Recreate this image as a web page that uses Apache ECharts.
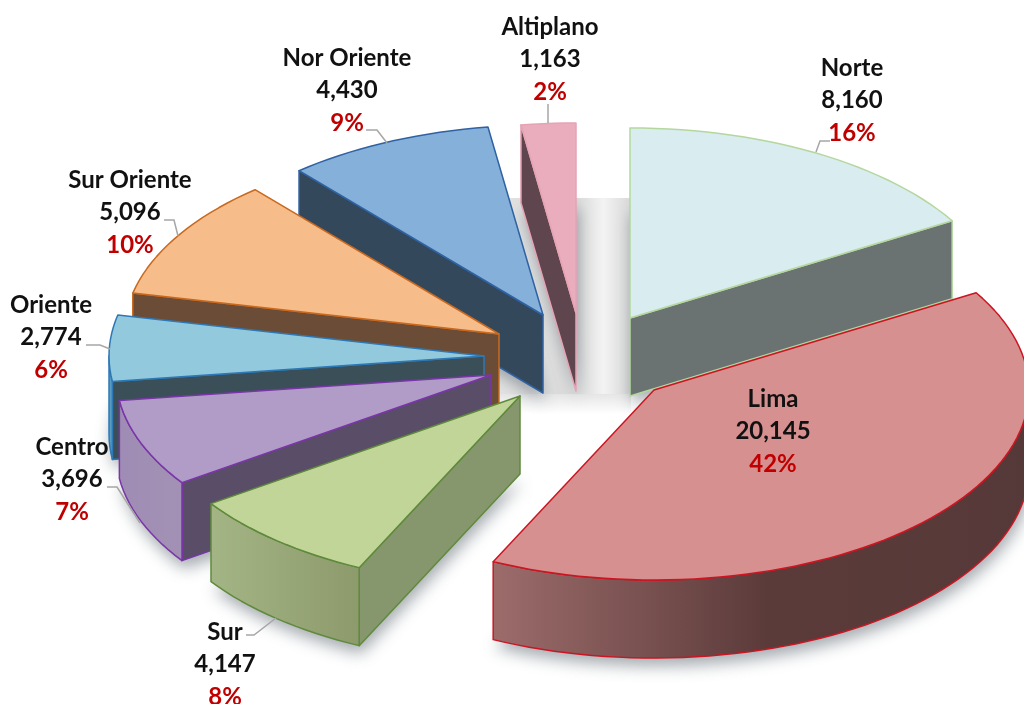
<!DOCTYPE html>
<html>
<head>
<meta charset="utf-8">
<style>html,body{margin:0;padding:0;background:#fff}#c{width:1024px;height:704px}</style>
<script src="https://cdn.jsdelivr.net/npm/echarts@6/dist/echarts.min.js"></script>
</head>
<body>
<div id="c"></div>
<script>
// ---- data, clockwise from 12 o'clock ----
const categories = ['Norte','Lima','Sur','Centro','Oriente','Sur Oriente','Nor Oriente','Altiplano'];
const values = [8160,20145,4147,3696,2774,5096,4430,1163];
const percentLabels = ['16%','42%','8%','7%','6%','10%','9%','2%'];

// ---- appearance ----
const explodeX = [55,79,-55,-84,-91,-76,-32,1];
const explodeY = [-32,40,46,25,6,-16,-35,-37];
const topColors = ['#d9ecef','#d79090','#c2d598','#b09cc6','#92c9dc','#f6bd8b','#84b0da','#e9adbd'];
const lineColors = ['#b4d79e','#cc1522','#5f8a3c','#7a35a8','#2e78b6','#c9691f','#2f62a2','#e6a3b4'];
const cutColors = ['#6a7272','#5a3a3a','#87976d','#5a4d68','#3a4f58','#6b4c37','#34485c','#5f464e'];
const wallLeft = ['#6a7272','#9c6c6b','#a4b585','#9f8cb4','#5a9cbf','#6b4c37','#34485c','#5f464e'];
const wallRight = ['#6a7272','#553938','#8d9a6c','#a391b5','#5a9cbf','#6b4c37','#34485c','#5f464e'];
const drawOrder = [7,6,5,4,3,2,0,1];
const labelX = [852,773,225,72,51,130,347,550];
const labelY = [68,399,632,447,305,180,58,27];
const leaders = [
  [[816,152],[820,141],[830,141]],
  [],
  [[246,635],[254,635],[276,618]],
  [[107,487],[117,487],[140,523]],
  [[86,345],[100,345],[110,349]],
  [[164,220],[174,220],[178,236]],
  [[366,130],[377,130],[387,143]],
  [[548,104],[548,123]]
];
const cx = 575, cy = 350, rx = 375, ry = 190, depth = 78;
const fontFamily = 'Lato, "Open Sans", sans-serif';
const fontSize = 24, lineStep = 32.5;

const total = values.reduce((a,b)=>a+b,0);

function arcPoints(ax, ay, a0, a1, dy) {
  const n = Math.max(2, Math.ceil((a1 - a0) / 2));
  const pts = [];
  for (let i = 0; i <= n; i++) {
    const t = (a0 + (a1 - a0) * i / n) * Math.PI / 180;
    pts.push([ax + rx * Math.sin(t), ay - ry * Math.cos(t) + dy]);
  }
  return pts;
}

function renderItem(params, api) {
  const i = params.dataIndex;
  let before = 0;
  for (let k = 0; k < i; k++) before += values[k];
  const a0 = before / total * 360;
  const a1 = a0 + api.value(0) / total * 360;
  const ax = cx + explodeX[i], ay = cy + explodeY[i];
  const z = (drawOrder.indexOf(i) + 1) * 10;
  const stroke = lineColors[i];
  const kids = [];

  // soft ground shadow: the bottom face, below every slice
  kids.push({
    type: 'polygon', z2: 1,
    shape: { points: [[ax, ay + depth]].concat(arcPoints(ax, ay, a0, a1, depth)) },
    style: { fill: '#c8cdd0', shadowBlur: 16, shadowColor: 'rgba(90,100,110,0.55)', shadowOffsetX: 2, shadowOffsetY: 8 }
  });

  const face = (pts, fill, zz) => kids.push({
    type: 'polygon', z2: z + zz, shape: { points: pts },
    style: { fill, stroke, lineWidth: 1.5, lineJoin: 'round' }
  });
  const cut = (a) => {
    const e = arcPoints(ax, ay, a, a, 0)[0];
    face([[ax, ay], e, [e[0], e[1] + depth], [ax, ay + depth]], cutColors[i], 1);
  };
  const s0 = Math.sin(a0 * Math.PI / 180), s1 = Math.sin(a1 * Math.PI / 180);
  if (s0 < -1e-6) cut(a0);
  if (s1 > 1e-6 && a1 < 360) cut(a1);

  const w0 = Math.max(a0, 90), w1 = Math.min(a1, 270);
  if (w1 > w0) {
    const topEdge = arcPoints(ax, ay, w0, w1, 0);
    const bottomEdge = arcPoints(ax, ay, w0, w1, depth).reverse();
    const midStop = i === 1 ? [{ offset: 0.51, color: '#5b3b3a' }] : [];
    face(topEdge.concat(bottomEdge), {
      type: 'linear', x: 0, y: 0, x2: 1, y2: 0,
      colorStops: [{ offset: 0, color: wallLeft[i] }].concat(midStop, [{ offset: 1, color: wallRight[i] }])
    }, 2);
  }
  face([[ax, ay]].concat(arcPoints(ax, ay, a0, a1, 0)), topColors[i], 3);

  if (leaders[i].length) {
    kids.push({
      type: 'polyline', z2: 200, shape: { points: leaders[i] },
      style: { fill: 'none', stroke: '#a6a6a6', lineWidth: 1.5 }
    });
  }
  const lines = [
    [categories[i], '#111111'],
    [api.value(0).toLocaleString('en-US'), '#111111'],
    [percentLabels[i], '#c00000']
  ];
  lines.forEach((l, k) => kids.push({
    type: 'text', z2: 300, x: labelX[i], y: labelY[i] + k * lineStep,
    style: { text: l[0], fill: l[1], align: 'center', verticalAlign: 'middle',
      font: 'bold ' + fontSize + 'px ' + fontFamily }
  }));
  return { type: 'group', children: kids };
}

const chart = echarts.init(document.getElementById('c'), null, { renderer: 'canvas' });
chart.setOption({
  animation: false,
  backgroundColor: '#ffffff',
  graphic: [
    { type: 'rect', z: 0, shape: { x: 500, y: 198, width: 131, height: 196 },
      style: { fill: { type: 'linear', x: 0, y: 0, x2: 1, y2: 0, colorStops: [
        { offset: 0, color: '#e2e2e2' }, { offset: 0.59, color: '#dadada' },
        { offset: 0.79, color: '#f3f3f3' }, { offset: 1, color: '#d8d8d8' } ] } } },
    { type: 'rect', z: 0, shape: { x: 500, y: 394, width: 131, height: 20 },
      style: { fill: { type: 'linear', x: 0, y: 0, x2: 0, y2: 1, colorStops: [
        { offset: 0, color: '#e6e6e6' }, { offset: 1, color: '#ffffff' } ] } } }
  ],
  series: [{
    type: 'custom',
    coordinateSystem: 'none',
    clip: false,
    silent: true,
    z: 2,
    renderItem,
    data: values.map((v, i) => ({ name: categories[i], value: [v] }))
  }]
});
</script>
</body>
</html>
